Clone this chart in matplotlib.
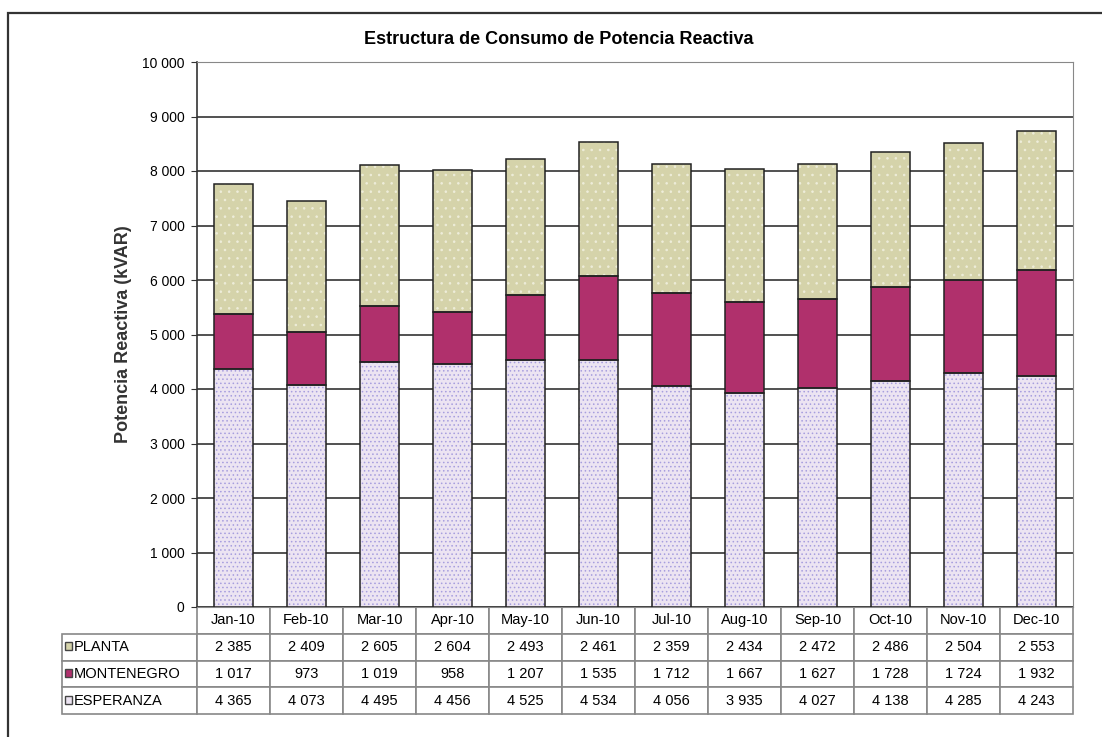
import matplotlib
matplotlib.use("Agg")
import matplotlib.pyplot as plt
from matplotlib.patches import Rectangle
from matplotlib.ticker import FuncFormatter, MultipleLocator
import numpy as np

months = ["Jan-10", "Feb-10", "Mar-10", "Apr-10", "May-10", "Jun-10",
          "Jul-10", "Aug-10", "Sep-10", "Oct-10", "Nov-10", "Dec-10"]
planta = [2385, 2409, 2605, 2604, 2493, 2461, 2359, 2434, 2472, 2486, 2504, 2553]
montenegro = [1017, 973, 1019, 958, 1207, 1535, 1712, 1667, 1627, 1728, 1724, 1932]
esperanza = [4365, 4073, 4495, 4456, 4525, 4534, 4056, 3935, 4027, 4138, 4285, 4243]

plt.rcParams["font.family"] = ["Liberation Sans", "DejaVu Sans"]
plt.rcParams["hatch.linewidth"] = 0.6


def fmt(v):
    return f"{int(v):,}".replace(",", " ")


fig = plt.figure(figsize=(11.02, 7.37), dpi=100)
W, H = 1102, 737
ax = fig.add_axes([197 / W, 1 - 607 / H, (1073 - 197) / W, (607 - 62) / H])

x = np.arange(len(months))
bw = 0.53
# (name, values, face, hatch, hatch colour)
series = [
    ("ESPERANZA", esperanza, "#ece4f2", "....", "#a79ede"),
    ("MONTENEGRO", montenegro, "#b0306c", None, None),
    ("PLANTA", planta, "#d5d3aa", "..", "#eeedda"),
]
bottom = np.zeros(len(months))
for name, vals, face, hatch, hcol in series:
    if hatch:
        ax.bar(x, vals, bw, bottom=bottom, color=face, hatch=hatch,
               edgecolor=hcol, linewidth=0, zorder=3)
    else:
        ax.bar(x, vals, bw, bottom=bottom, color=face, linewidth=0, zorder=3)
    ax.bar(x, vals, bw, bottom=bottom, fill=False, edgecolor="#222222",
           linewidth=1.1, zorder=4)
    bottom += np.array(vals)

ax.set_xlim(-0.5, len(months) - 0.5)
ax.set_ylim(0, 10000)
ax.yaxis.set_major_locator(MultipleLocator(1000))
ax.yaxis.set_major_formatter(FuncFormatter(lambda v, p: fmt(v)))
ax.tick_params(axis="y", labelsize=10, length=4, color="#333333", pad=5)
ax.set_xticks([])
ax.grid(axis="y", color="#333333", linewidth=1.2, zorder=0)
for s in ["top", "right"]:
    ax.spines[s].set_color("#888888")
ax.spines["left"].set_color("#333333")
ax.spines["left"].set_linewidth(1.2)
ax.spines["bottom"].set_color("#888888")
ax.set_ylabel("Potencia Reactiva (kVAR)", fontsize=13, fontweight="bold",
              color="#333333", labelpad=7)

fig.text(559 / W, 1 - 40 / H, "Estructura de Consumo de Potencia Reactiva",
         ha="center", va="center", fontsize=13, fontweight="bold")

# data table under the axes
row_names = ["PLANTA", "MONTENEGRO", "ESPERANZA"]
row_colors = ["#d5d3aa", "#b0306c", "#ece4f2"]
cell_text = [[fmt(v) for v in planta],
             [fmt(v) for v in montenegro],
             [fmt(v) for v in esperanza]]
ax_h = 607 - 62
ax_w = 1073 - 197
lab_w = 135 / ax_w
tb_h = (714 - 607) / ax_h
tbl = ax.table(cellText=cell_text, rowLabels=row_names, colLabels=months,
               colWidths=[1 / 12] * 12, cellLoc="center", rowLoc="left",
               bbox=[0, -tb_h, 1, tb_h])
tbl.auto_set_font_size(False)
tbl.set_fontsize(10.5)
tbl._autoColumns = []
for (r, c), cell in tbl.get_celld().items():
    cell.set_edgecolor("#888888")
    cell.set_linewidth(1.2)
    if c == -1:
        cell.set_width(lab_w)
        cell.PAD = 0.09

# legend keys in the row labels
row_mid = [646, 673, 700]
for yc, col in zip(row_mid, row_colors):
    ax.add_patch(Rectangle(((65 - 197) / ax_w, (607 - yc - 4) / ax_h),
                           7 / ax_w, 8 / ax_h, transform=ax.transAxes,
                           facecolor=col, edgecolor="#444444", linewidth=1,
                           clip_on=False, zorder=5))

# outer chart border
fig.add_artist(Rectangle((8 / W, -0.1), 1.2, 1.1 - 13 / H, transform=fig.transFigure,
                         fill=False, edgecolor="#333333", linewidth=1.6))

fig.savefig("out.png", dpi=100)
